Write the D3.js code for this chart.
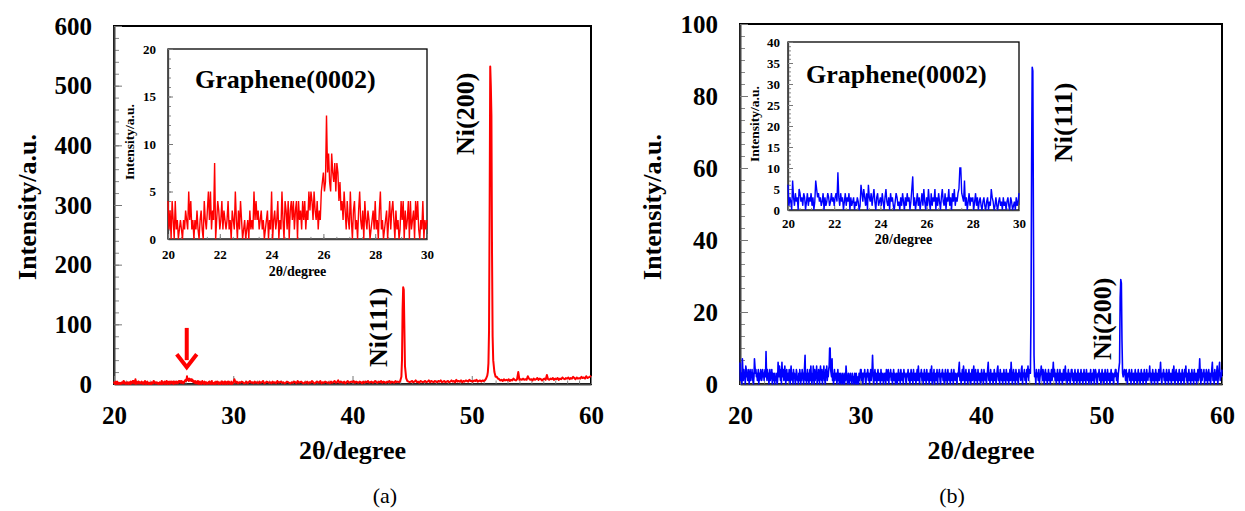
<!DOCTYPE html>
<html>
<head>
<meta charset="utf-8">
<script src="https://cdn.jsdelivr.net/npm/d3@7"></script>
<style>
  body { margin: 0; background: #fff; }
  svg { display: block; }
  text { font-family: "Liberation Serif", "Times New Roman", serif; }
</style>
</head>
<body>
<script>
// ---- data (counts) ----
// insets: 2theta 20 -> 30, step 0.04 (also used for the 20-30 part of the main plots)
var insetStart = 20, insetStep = 0.04;
var insetA = [
  4,1,3,0,4,2,0,4,1,2,0,1,2,1,0,2,1,3,2,1,5,2,4,1,2,
  0,2,1,3,1,0,2,3,1,0,4,2,1,3,5,2,5,1,3,2,8,0,2,4,3,
  1,2,4,1,3,2,1,2,4,1,2,0,3,2,1,5,2,0,3,1,4,2,0,1,2,
  0,1,2,0,3,1,2,1,5,2,4,2,3,1,2,3,1,2,0,1,2,3,0,2,1,
  5,0,2,3,1,2,4,0,2,1,5,2,0,4,3,1,4,0,3,4,2,4,1,3,4,
  0,4,2,3,1,4,2,4,1,3,2,5,3,5,4,2,5,3,2,4,1,3,2,5,6,
  7,5,6,13,7,9,6,5,9,7,6,8,5,8,7,4,6,3,4,2,5,3,1,4,2,
  1,5,2,0,3,4,1,2,0,3,5,2,1,3,0,4,2,1,3,2,0,1,2,3,1,
  4,1,2,0,3,5,1,2,0,1,2,3,0,2,4,1,3,4,2,0,3,1,2,0,1,
  4,2,4,0,3,1,2,4,0,4,1,2,3,0,4,2,4,1,0,2,1,4,0,2,1,
  2
];
var insetB = [
  6,1,3,2,0,7,3,1,4,2,3,0,5,4,2,3,1,4,3,0,2,4,1,3,2,
  4,1,3,0,2,7,5,3,4,2,3,1,2,4,0,3,1,2,4,3,1,2,4,2,3,
  1,3,4,2,9,3,1,4,2,3,0,2,4,1,3,2,4,0,3,1,2,3,0,2,1,
  3,2,0,1,6,4,2,5,3,1,4,0,6,3,2,4,1,3,5,2,0,3,4,1,2,
  3,1,4,2,0,3,5,2,1,3,0,4,2,3,1,0,2,4,3,1,2,0,3,1,4,
  2,0,3,1,4,2,3,0,2,5,8,1,3,0,2,4,1,3,0,2,4,1,5,2,0,
  3,1,5,2,0,4,1,3,2,5,0,3,1,4,2,0,3,5,2,1,4,0,3,2,5,
  1,3,0,4,2,5,1,3,2,4,5,10,10,4,3,2,7,1,3,0,2,4,1,3,2,
  3,0,2,4,1,3,0,2,3,1,0,2,3,1,0,2,3,0,2,1,5,3,2,0,1,
  3,1,0,2,3,1,2,0,3,1,2,0,2,3,1,0,3,2,0,1,2,0,3,1,2,
  4
];

// main plot (a), 2theta 30 -> 60, step 0.1
var mainAStep = 0.1;
var mainA = [
  3,8,2,4,1,3,2,4,3,1,   2,4,1,3,5,2,3,1,4,2,   3,1,4,2,3,5,1,2,4,3,
  2,3,1,4,2,3,1,5,2,3,   4,2,3,1,2,4,3,2,1,3,   2,4,3,1,5,2,3,4,2,1,
  3,2,4,1,3,2,5,3,1,2,   4,3,2,5,1,3,2,4,3,2,   3,1,4,2,3,5,2,3,6,2,
  4,3,2,4,1,3,5,2,3,4,   3,5,2,4,3,2,4,3,1,4,   2,4,3,5,2,3,4,2,3,5,
  3,2,4,3,5,2,4,3,2,4,   3,5,2,4,3,2,5,3,4,3,   4,3,5,4,3,4,5,4,3,4,
  5,3,4,6,3,4,2,5,4,3,   4,5,3,4,6,3,5,4,3,5,   4,3,5,4,6,3,4,5,3,4,
  5,3,4,6,4,5,3,7,4,5,   4,6,3,5,4,6,5,4,7,5,   5,4,6,5,7,4,5,6,4,6,
  5,6,4,7,6,8,10,14,20,30, 20,12,9,8,6,7,5,8,6,7, 6,8,5,7,6,9,7,6,8,20,
  7,8,7,9,7,8,7,13,9,7,  8,6,9,7,8,10,7,9,8,6,  8,9,7,15,8,7,9,8,10,7,
  9,8,10,7,9,8,11,9,8,10, 9,11,8,10,9,12,10,8,11,9, 10,9,12,10,11,9,13,10,11,12,
  14
];
// main plot (b), 2theta 30 -> 60, step 0.05 (one row per degree)
var mainBStep = 0.05;
var mainB = [
  2,4,1,3,0,3,2,4,1,0,3,2,4,1,3,0,2,4,1,3,
  8,3,0,2,4,1,3,0,2,4,1,3,2,0,4,1,3,2,0,3,
  1,3,0,4,2,1,4,0,3,2,4,1,3,0,2,4,1,3,0,2,
  3,0,2,4,1,3,0,4,2,1,3,0,4,2,3,1,0,3,2,4,
  1,3,0,2,4,1,3,0,4,2,1,3,0,2,4,1,5,2,0,3,
  2,4,1,3,0,2,4,1,3,0,4,2,1,3,0,2,4,1,5,0,
  3,1,4,0,2,3,1,4,0,3,2,4,1,0,3,2,4,1,3,0,
  2,4,1,3,0,4,2,1,3,0,2,4,1,3,0,4,2,1,3,2,
  0,3,2,4,6,1,3,0,2,4,1,5,3,0,2,4,1,3,0,2,
  4,1,3,0,2,4,1,3,5,0,2,4,1,3,0,4,2,1,3,0,
  2,4,1,3,0,4,2,1,3,0,2,4,6,1,3,0,4,2,1,3,
  0,2,4,1,3,0,2,4,5,1,3,0,4,2,1,3,0,2,4,1,
  3,0,4,2,1,3,0,2,4,1,6,3,0,2,4,1,3,0,4,2,
  1,3,0,4,2,3,1,4,5,0,3,2,4,1,3,0,4,2,5,1,
  3,2,4,1,5,2,3,1,4,2,3,0,4,2,3,1,4,0,2,3,
  5,3,1,4,2,0,3,4,1,3,0,2,4,1,3,0,2,4,1,3,
  6,2,4,1,3,0,2,4,1,3,0,4,2,1,3,0,2,4,1,3,
  5,1,3,0,2,4,1,3,0,2,4,4,1,3,0,2,4,1,3,0,
  2,4,1,3,0,2,4,1,3,0,2,4,1,3,0,4,2,1,3,0,
  3,1,4,0,2,3,1,4,0,2,4,3,1,0,3,2,4,1,3,0,
  2,4,1,3,0,2,4,1,3,0,4,2,1,3,0,2,4,1,3,2,
  0,3,2,4,4,1,3,0,2,4,1,3,2,4,3,1,4,2,0,3,
  1,4,2,0,3,2,4,1,3,0,4,2,1,3,0,2,4,1,3,0,
  2,4,1,3,0,2,4,1,3,0,2,4,1,3,0,4,2,1,3,2,
  5,1,3,0,2,4,1,3,0,2,4,1,3,0,2,4,1,3,6,2,
  0,3,2,4,1,3,0,2,4,1,3,0,4,2,1,3,0,2,4,1,
  5,2,0,3,4,1,3,0,2,4,1,3,0,2,4,1,3,0,4,2,
  5,1,3,0,2,4,1,3,0,2,4,1,3,0,4,2,1,3,0,2,
  4,1,3,7,2,0,4,1,3,2,4,0,3,1,4,2,0,3,4,1,
  3,0,2,4,6,1,3,0,4,2,1,3,5,0,2,4,6,1,3,2,
  4
];

// diffraction peaks [2theta, counts]
var peaksA = [
  [[44.0,5],[44.1,12],[44.15,40],[44.2,125],[44.25,162],[44.3,158],[44.35,95],[44.4,30],[44.5,10],[44.6,5]],
  [[51.2,9],[51.3,14],[51.35,20],[51.4,35],[51.45,90],[51.5,300],[51.55,532],[51.6,500],[51.65,450],
   [51.7,220],[51.75,80],[51.8,40],[51.9,20],[52.0,12]]
];
var peaksB = [
  [[44.0,4],[44.1,3],[44.15,20],[44.2,61],[44.25,88],[44.3,87],[44.35,45],[44.4,8],[44.45,2],[44.5,3]],
  [[51.4,3],[51.5,6],[51.55,24],[51.6,29],[51.65,28],[51.7,12],[51.75,3],[51.8,2],[51.9,4]]
];

var xTicks = [20, 30, 40, 50, 60];
var yTicksA = [0, 100, 200, 300, 400, 500, 600];
var yTicksB = [0, 20, 40, 60, 80, 100];
var insetXTicks = [20, 22, 24, 26, 28, 30];
var insetYTicksA = [0, 5, 10, 15, 20];
var insetYTicksB = [0, 5, 10, 15, 20, 25, 30, 35, 40];

var peakNamesA = ["Ni(111)", "Ni(200)"];
var peakNamesB = ["Ni(111)", "Ni(200)"];

// ---- helpers ----
function stepSeries(start, step, values) {
  return values.map(function(v, i) { return [Math.round((start + i * step) * 100) / 100, v]; });
}

function buildSeries(inset, main, step, peaks) {
  var bg = stepSeries(20, insetStep, inset).concat(stepSeries(30, step, main).slice(1));
  peaks.forEach(function(p) {
    var lo = p[0][0], hi = p[p.length - 1][0];
    bg = bg.filter(function(d) { return d[0] < lo || d[0] > hi; }).concat(p);
  });
  return bg.sort(function(a, b) { return a[0] - b[0]; });
}

var svg = d3.select("body").append("svg")
    .attr("width", 1245)
    .attr("height", 511);

function drawFrame(g, x, y, opt) {
  var x0 = x.range()[0], x1 = x.range()[1], y0 = y.range()[0], y1 = y.range()[1];

  g.append("rect")
      .attr("x", x0).attr("y", y1)
      .attr("width", x1 - x0).attr("height", y0 - y1)
      .attr("fill", opt.fill || "none")
      .attr("stroke", "#000")
      .attr("stroke-width", opt.frame);

  // minor ticks, inward
  g.append("g")
      .attr("transform", "translate(" + x0 + ",0)")
      .call(d3.axisLeft(y).tickValues(opt.yMinor).tickSize(-opt.minor).tickFormat(""))
      .call(function(s) { s.select(".domain").remove(); s.selectAll("line").attr("stroke", "#888"); });
  g.append("g")
      .attr("transform", "translate(0," + y0 + ")")
      .call(d3.axisBottom(x).tickValues(opt.xMinor).tickSize(-opt.minor * 0.7).tickFormat(""))
      .call(function(s) { s.select(".domain").remove(); s.selectAll("line").attr("stroke", "#888"); });

  var ya = g.append("g")
      .attr("transform", "translate(" + x0 + ",0)")
      .call(d3.axisLeft(y).tickValues(opt.yTicks).tickSize(-opt.major).tickSizeOuter(0).tickPadding(opt.padY));
  var xa = g.append("g")
      .attr("transform", "translate(0," + y0 + ")")
      .call(d3.axisBottom(x).tickValues(opt.xTicks).tickSize(-opt.major).tickSizeOuter(0).tickPadding(opt.padX));

  [ya, xa].forEach(function(a) {
    a.select(".domain").attr("stroke", "#444").attr("stroke-width", opt.frame);
    a.selectAll("line").attr("stroke", "#777");
    a.selectAll("text")
        .attr("fill", "#000")
        .style("font-family", '"Liberation Serif", "Times New Roman", serif')
        .style("font-weight", "bold")
        .style("font-size", opt.font + "px");
  });
}

function rotLabel(g, txt, px, py, size, anchor) {
  g.append("text")
      .attr("transform", "translate(" + px + "," + py + ") rotate(-90)")
      .attr("text-anchor", anchor)
      .style("font-weight", "bold")
      .style("font-size", size + "px")
      .text(txt);
}

function drawPanel(p) {
  var g = svg.append("g");
  var x = d3.scaleLinear().domain([20, 60]).range(p.xr);
  var y = d3.scaleLinear().domain([0, p.yMax]).range(p.yr);
  var series = buildSeries(p.inset, p.main, p.step, p.peaks);

  drawFrame(g, x, y, {
    yTicks: p.yTicks, xTicks: xTicks,
    yMinor: d3.range(0, p.yMax + 0.001, p.yMax / 30),
    xMinor: d3.range(20, 60.001, 1),
    major: 8, minor: 5, padY: 22, padX: 22, font: 25, frame: 2
  });

  g.append("path")
      .datum(series)
      .attr("fill", "none")
      .attr("stroke", p.color)
      .attr("stroke-width", p.lw)
      .attr("stroke-linejoin", "round")
      .attr("d", d3.line().x(function(d) { return x(d[0]); }).y(function(d) { return y(d[1]); }));

  // axis titles
  g.append("text")
      .attr("x", (p.xr[0] + p.xr[1]) / 2).attr("y", 459)
      .attr("text-anchor", "middle")
      .style("font-weight", "bold").style("font-size", "26px")
      .text("2θ/degree");
  rotLabel(g, "Intensity/a.u.", p.yTitleX, 207, 26, "middle");

  g.append("text")
      .attr("x", p.capX).attr("y", 503)
      .attr("text-anchor", "middle")
      .style("font-size", "22px")
      .text(p.caption);

  // peak names
  p.labels.forEach(function(l, i) {
    rotLabel(g, p.names[i], l[0], l[1], 26, "start");
  });

  // inset
  var ix = d3.scaleLinear().domain([20, 30]).range(p.ixr);
  var iy = d3.scaleLinear().domain([0, p.iyMax]).range(p.iyr);
  var ig = g.append("g");
  drawFrame(ig, ix, iy, {
    fill: "#fff",
    yTicks: p.iyTicks, xTicks: insetXTicks,
    yMinor: d3.range(0, p.iyMax + 0.001, 1),
    xMinor: d3.range(20, 30.001, 0.5),
    major: 5, minor: 3, padY: p.iPadY, padX: p.iPadX, font: 13, frame: 1.3
  });
  ig.append("path")
      .datum(stepSeries(insetStart, insetStep, p.inset))
      .attr("fill", "none")
      .attr("stroke", p.color)
      .attr("stroke-width", 1.4)
      .attr("d", d3.line().x(function(d) { return ix(d[0]); }).y(function(d) { return iy(d[1]); }));

  ig.append("text")
      .attr("x", (p.ixr[0] + p.ixr[1]) / 2).attr("y", p.iTitleY)
      .attr("text-anchor", "middle")
      .style("font-weight", "bold").style("font-size", "14px")
      .text("2θ/degree");
  rotLabel(ig, "Intensity/a.u.", p.iyTitleX, (p.iyr[0] + p.iyr[1]) / 2 - 2, 13.5, "middle");

  ig.append("text")
      .attr("x", p.gx).attr("y", p.gy)
      .style("font-weight", "bold").style("font-size", "26px")
      .text("Graphene(0002)");

  return { g: g, x: x, y: y };
}

var pa = drawPanel({
  color: "#ff0000", inset: insetA, main: mainA, step: mainAStep, peaks: peaksA, names: peakNamesA,
  lw: 2, xr: [114, 591], yr: [384, 26], yMax: 600, yTicks: yTicksA,
  yTitleX: 36, capX: 385, caption: "(a)",
  labels: [[387, 367], [474, 155]],
  ixr: [168, 427], iyr: [239, 49], iyMax: 20, iyTicks: insetYTicksA,
  iPadY: 12, iPadX: 11, iTitleY: 276, iyTitleX: 134, gx: 195, gy: 88
});

var pb = drawPanel({
  color: "#0000ff", inset: insetB, main: mainB, step: mainBStep, peaks: peaksB, names: peakNamesB,
  lw: 1.6, xr: [740, 1222], yr: [384, 24], yMax: 100, yTicks: yTicksB,
  yTitleX: 661, capX: 952, caption: "(b)",
  labels: [[1072, 162], [1111, 360]],
  ixr: [788, 1019], iyr: [210, 42], iyMax: 40, iyTicks: insetYTicksB,
  iPadY: 8, iPadX: 9, iTitleY: 244, iyTitleX: 759, gx: 806, gy: 83
});

// red arrow pointing at the graphene bump in (a)
var ax = pa.x(26.1);
pa.g.append("line")
    .attr("x1", ax).attr("x2", ax)
    .attr("y1", pa.y(94)).attr("y2", pa.y(40))
    .attr("stroke", "#ff0000").attr("stroke-width", 4);
pa.g.append("path")
    .attr("d", "M" + (ax - 10) + "," + pa.y(50) + "L" + ax + "," + pa.y(28) + "L" + (ax + 10) + "," + pa.y(50))
    .attr("fill", "none").attr("stroke", "#ff0000").attr("stroke-width", 4)
    .attr("stroke-linejoin", "miter");
</script>
</body>
</html>
